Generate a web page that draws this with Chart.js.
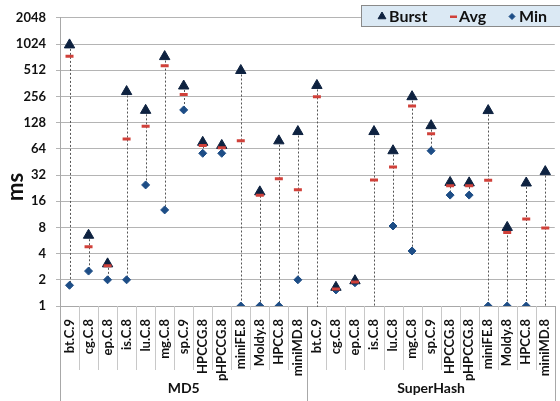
<!DOCTYPE html>
<html>
<head>
<meta charset="utf-8">
<script src="https://cdn.jsdelivr.net/npm/chart.js@4/dist/chart.umd.min.js"></script>
<style>
html,body{margin:0;padding:0;background:#fff;overflow:hidden;}
#wrap{width:566px;height:401px;}
</style>
</head>
<body>
<div id="wrap"><canvas id="c" width="566" height="401"></canvas></div>
<script>
// ---- data ----
const benchmarks = ['bt.C.9','cg.C.8','ep.C.8','is.C.8','lu.C.8','mg.C.8','sp.C.9','HPCCG.8','pHPCCG.8','miniFE.8','Moldy.8','HPCC.8','miniMD.8'];
const groups = ['MD5','SuperHash'];
const yTicks = [1,2,4,8,16,32,64,128,256,512,1024,2048];
const seriesNames = ['Burst','Avg','Min'];

const md5Burst = [1000, 6.5, 3.05, 291, 177, 734, 337, 76, 70, 508, 20.5, 79, 101];
const md5Avg   = [739, 4.8, 2.9, 83, 116, 577, 269, 70, 66, 79, 18.7, 29, 21.7];
const md5Min   = [1.73, 2.52, 2.0, 2.0, 24.6, 12.7, 179, 56.8, 56.8, 1, 1, 1, 2.0];

const shBurst = [342, 1.64, 1.95, 101, 60.8, 254, 118, 26.3, 26, 176, 8.0, 25.9, 35];
const shAvg   = [254, 1.57, 1.89, 28.1, 39.6, 198, 95, 24.1, 24, 27.9, 7.0, 10.0, 7.9];
const shMin   = [0.5, 1.53, 1.85, 0.5, 8.3, 4.29, 60.8, 18.8, 18.8, 1, 1, 1, 0.5];

// ---- build ----
const labels = groups.flatMap(() => benchmarks);
const burst = md5Burst.concat(shBurst);
const avg = md5Avg.concat(shAvg);
const minv = md5Min.concat(shMin);

const FONT = 'Lato, "Open Sans", "Liberation Sans", sans-serif';
const NAVY = '#0e2240';
const RED = '#d0413a';
const BLUE = '#1d4d86';

const decor = {
  id: 'decor',
  beforeDatasetsDraw(chart) {
    const ctx = chart.ctx, x = chart.scales.x, y = chart.scales.y, a = chart.chartArea;
    ctx.save();
    ctx.beginPath();
    ctx.rect(a.left, a.top, a.right - a.left, a.bottom - a.top + 1);
    ctx.clip();
    ctx.strokeStyle = '#555';
    ctx.lineWidth = 1;
    ctx.setLineDash([2, 2]);
    for (let i = 0; i < labels.length; i++) {
      const px = Math.round(x.getPixelForValue(i)) + 0.5;
      const y1 = y.getPixelForValue(burst[i]);
      const y2 = y.getPixelForValue(minv[i]);
      ctx.beginPath();
      ctx.moveTo(px, y1);
      ctx.lineTo(px, y2);
      ctx.stroke();
    }
    ctx.restore();
  },
  afterDraw(chart) {
    const ctx = chart.ctx, x = chart.scales.x, y = chart.scales.y, a = chart.chartArea;
    ctx.save();
    ctx.lineWidth = 1;
    const n = benchmarks.length;
    for (let i = 0; i <= labels.length; i++) {
      const px = Math.round(x.getPixelForValue(i - 0.5)) + 0.5;
      const isGroup = (i % n === 0);
      ctx.strokeStyle = isGroup ? '#a8a8a8' : '#c8c8c8';
      ctx.beginPath();
      ctx.moveTo(px, a.bottom);
      ctx.lineTo(px, isGroup ? chart.height : a.bottom + 64);
      ctx.stroke();
    }
    // group labels
    ctx.fillStyle = '#111';
    ctx.font = 'bold 14px ' + FONT;
    ctx.textAlign = 'center';
    ctx.textBaseline = 'middle';
    groups.forEach((g, gi) => {
      const cx = (x.getPixelForValue(gi * n - 0.5) + x.getPixelForValue(gi * n + n - 0.5)) / 2;
      ctx.fillText(g, cx, 388);
    });
    // y title
    ctx.save();
    ctx.translate(16, 187);
    ctx.rotate(-Math.PI / 2);
    ctx.font = 'bold 22px ' + FONT;
    ctx.fillText('ms', 0, 0);
    ctx.restore();
    // legend
    const lx = 361.5, ly = 5.5, lw = 210, lh = 21;
    ctx.fillStyle = '#dbe9f4';
    ctx.fillRect(lx, ly, lw, lh);
    ctx.strokeStyle = '#8a8a8a';
    ctx.strokeRect(lx, ly, lw, lh);
    const cy = ly + lh / 2;
    ctx.font = 'bold 16px ' + FONT;
    ctx.textAlign = 'left';
    // Burst
    ctx.fillStyle = NAVY; ctx.strokeStyle = NAVY;
    Chart.helpers.drawPoint(ctx, {pointStyle: 'triangle', radius: 4.5, borderWidth: 1}, 382, cy + 0.5);
    ctx.fillStyle = '#111';
    ctx.fillText(seriesNames[0], 389, cy + 1);
    // Avg
    ctx.fillStyle = RED;
    ctx.fillRect(450, cy - 0.5, 7, 2.5);
    ctx.fillStyle = '#111';
    ctx.fillText(seriesNames[1], 459, cy + 1);
    // Min
    ctx.fillStyle = BLUE; ctx.strokeStyle = BLUE;
    Chart.helpers.drawPoint(ctx, {pointStyle: 'rectRot', radius: 3, borderWidth: 1}, 512, cy + 0.5);
    ctx.fillStyle = '#111';
    ctx.fillText(seriesNames[2], 519, cy + 1);
    ctx.restore();
  }
};

new Chart(document.getElementById('c'), {
  type: 'line',
  data: {
    labels: labels,
    datasets: [
      {label: seriesNames[0], data: burst, showLine: false, pointStyle: 'triangle', pointRadius: 6,
       backgroundColor: NAVY, borderColor: NAVY, pointBorderWidth: 1, order: 2},
      {label: seriesNames[1], data: avg, showLine: false, pointStyle: 'line', pointRadius: 4,
       backgroundColor: RED, borderColor: RED, pointBorderWidth: 3, order: 1},
      {label: seriesNames[2], data: minv, showLine: false, pointStyle: 'rectRot', pointRadius: 4,
       backgroundColor: BLUE, borderColor: BLUE, pointBorderWidth: 1, order: 3}
    ]
  },
  options: {
    responsive: false,
    animation: false,
    events: [],
    layout: {padding: {top: 9, right: 2, left: 0, bottom: 0}},
    plugins: {legend: {display: false}, tooltip: {enabled: false}},
    scales: {
      x: {
        type: 'category',
        offset: true,
        grid: {display: false, offset: true},
        border: {display: true, color: '#a8a8a8'},
        ticks: {
          autoSkip: false, minRotation: 90, maxRotation: 90, padding: 5,
          color: '#111', font: {family: FONT, size: 13, weight: 'bold'}
        },
        afterFit(s) { s.height = 95; }
      },
      y: {
        type: 'logarithmic',
        min: 1, max: 2048,
        afterBuildTicks(s) { s.ticks = yTicks.map(v => ({value: v})); },
        grid: {color: '#b4b4b4', tickLength: 4, drawTicks: true},
        border: {display: true, color: '#a8a8a8'},
        ticks: {
          padding: 10, color: '#111', font: {family: FONT, size: 13, weight: 'bold'},
          callback: (v) => String(v)
        },
        afterFit(s) { s.width = 60; }
      }
    }
  },
  plugins: [decor]
});
</script>
</body>
</html>
